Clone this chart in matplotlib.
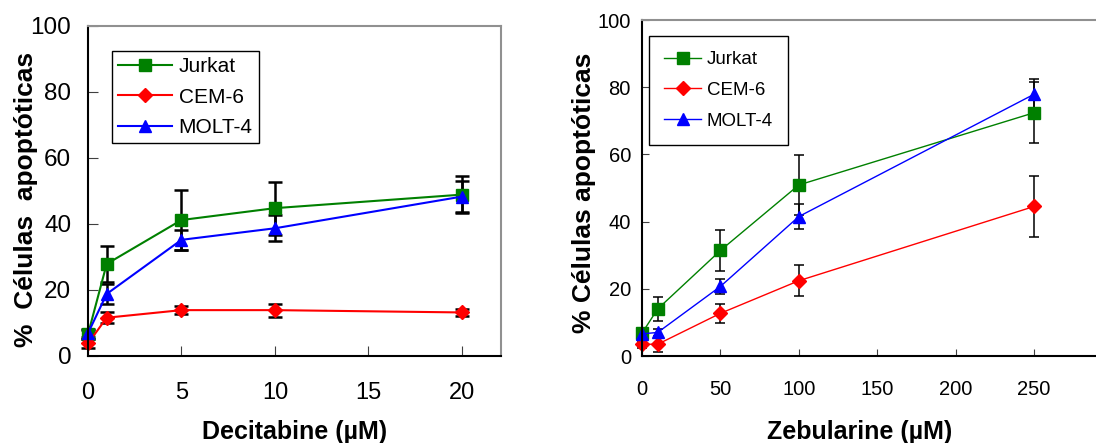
import matplotlib
matplotlib.use("Agg")
import matplotlib.pyplot as plt

plt.rcParams["font.family"] = ["Liberation Sans", "DejaVu Sans"]

# ---- data ----
series = ["Jurkat", "CEM-6", "MOLT-4"]
colors = ["#008000", "#ff0000", "#0000ff"]
markers = ["s", "D", "^"]
msizes = [8, 7.5, 9]

deci_x = [0, 1, 5, 10, 20]
deci_jurkat = [6.6, 27.9, 41.2, 44.8, 48.9]
deci_jurkat_err = [1.5, 5.4, 9.0, 8.0, 5.5]
deci_cem = [3.8, 11.6, 13.9, 13.9, 13.2]
deci_cem_err = [1.5, 1.6, 1.3, 2.0, 1.0]
deci_molt = [6.9, 18.8, 35.2, 38.7, 48.3]
deci_molt_err = [1.0, 3.0, 3.0, 3.9, 4.6]

zebu_x = [0, 10, 50, 100, 250]
zebu_jurkat = [6.8, 14.0, 31.4, 50.9, 72.4]
zebu_jurkat_err = [1.0, 3.6, 6.0, 9.0, 9.0]
zebu_cem = [3.5, 3.5, 12.7, 22.4, 44.5]
zebu_cem_err = [1.0, 2.3, 2.8, 4.6, 9.2]
zebu_molt = [6.6, 7.0, 20.7, 41.5, 77.9]
zebu_molt_err = [0.8, 1.0, 2.2, 3.7, 4.6]

W, H = 10.96, 4.43
fig = plt.figure(figsize=(W, H), dpi=100)


def panel(ax, x, ys, errs, lw, elw, cap, tick_fs):
    handles = []
    for y, e, name, c, m, ms in zip(ys, errs, series, colors, markers, msizes):
        cont = ax.errorbar(x, y, yerr=e, color=c, marker=m, ms=ms, lw=lw,
                           ecolor="black", elinewidth=elw, capsize=cap,
                           capthick=elw, label=name, clip_on=False)
        handles.append(cont[0])
    ax.set_ylim(0, 100)
    ax.set_yticks([0, 20, 40, 60, 80, 100])
    ax.tick_params(direction="in", labelsize=tick_fs, color="#404040")
    for s in ["top", "right"]:
        ax.spines[s].set_color("#909090")
        ax.spines[s].set_linewidth(1.5)
    for s in ["left", "bottom"]:
        ax.spines[s].set_color("black")
        ax.spines[s].set_linewidth(1.5)
    return handles


# left panel - decitabine
ax1 = fig.add_axes([88 / 1096, 87 / 443, 413 / 1096, 330 / 443])
h1 = panel(ax1, deci_x, [deci_jurkat, deci_cem, deci_molt],
           [deci_jurkat_err, deci_cem_err, deci_molt_err], 1.5, 1.8, 4.7, 17.5)
ax1.set_xlim(0, 22.1)
ax1.set_xticks([0, 5, 10, 15, 20])
ax1.tick_params(axis="x", pad=19, length=7, labelsize=17)
ax1.tick_params(axis="y", pad=12, length=7)
ax1.set_ylabel("%  Células  apoptóticas", fontsize=19, fontweight="bold")
ax1.yaxis.set_label_coords(-0.121, 0.473)
ax1.set_xlabel("Decitabine (µM)", fontsize=18, fontweight="bold")
ax1.xaxis.set_label_coords(0.501, -0.194)
leg1 = ax1.legend(handles=h1, labels=series, loc="upper left",
                  bbox_to_anchor=(0.058, 0.924), fontsize=15,
                  handlelength=2.6, labelspacing=0.55, borderpad=0.3,
                  handletextpad=0.3, borderaxespad=0, fancybox=False,
                  framealpha=1)
leg1.get_frame().set_edgecolor("black")
leg1.get_frame().set_linewidth(1.0)

# right panel - zebularine
ax2 = fig.add_axes([642 / 1096, 87 / 443, 454 / 1096, 336 / 443])
h2 = panel(ax2, zebu_x, [zebu_jurkat, zebu_cem, zebu_molt],
           [zebu_jurkat_err, zebu_cem_err, zebu_molt_err], 1.0, 1.1, 3.6, 14.5)
ax2.set_xlim(0, 289.5)
ax2.set_xticks([0, 50, 100, 150, 200, 250])
ax2.spines["right"].set_visible(False)
ax2.tick_params(axis="x", pad=17, length=5)
ax2.tick_params(axis="y", pad=8, length=5)
ax2.set_ylabel("% Células apoptóticas", fontsize=19, fontweight="bold")
ax2.yaxis.set_label_coords(-0.101, 0.485)
ax2.set_xlabel("Zebularine (µM)", fontsize=18, fontweight="bold")
ax2.xaxis.set_label_coords(0.48, -0.19)
leg2 = ax2.legend(handles=h2, labels=series, loc="upper left",
                  bbox_to_anchor=(0.015, 0.952), fontsize=13.5,
                  handlelength=2.0, labelspacing=0.72, borderpad=0.8,
                  handletextpad=0.3, borderaxespad=0, fancybox=False,
                  framealpha=1)
leg2.get_frame().set_edgecolor("black")
leg2.get_frame().set_linewidth(1.0)

fig.savefig("out.png", dpi=100)
